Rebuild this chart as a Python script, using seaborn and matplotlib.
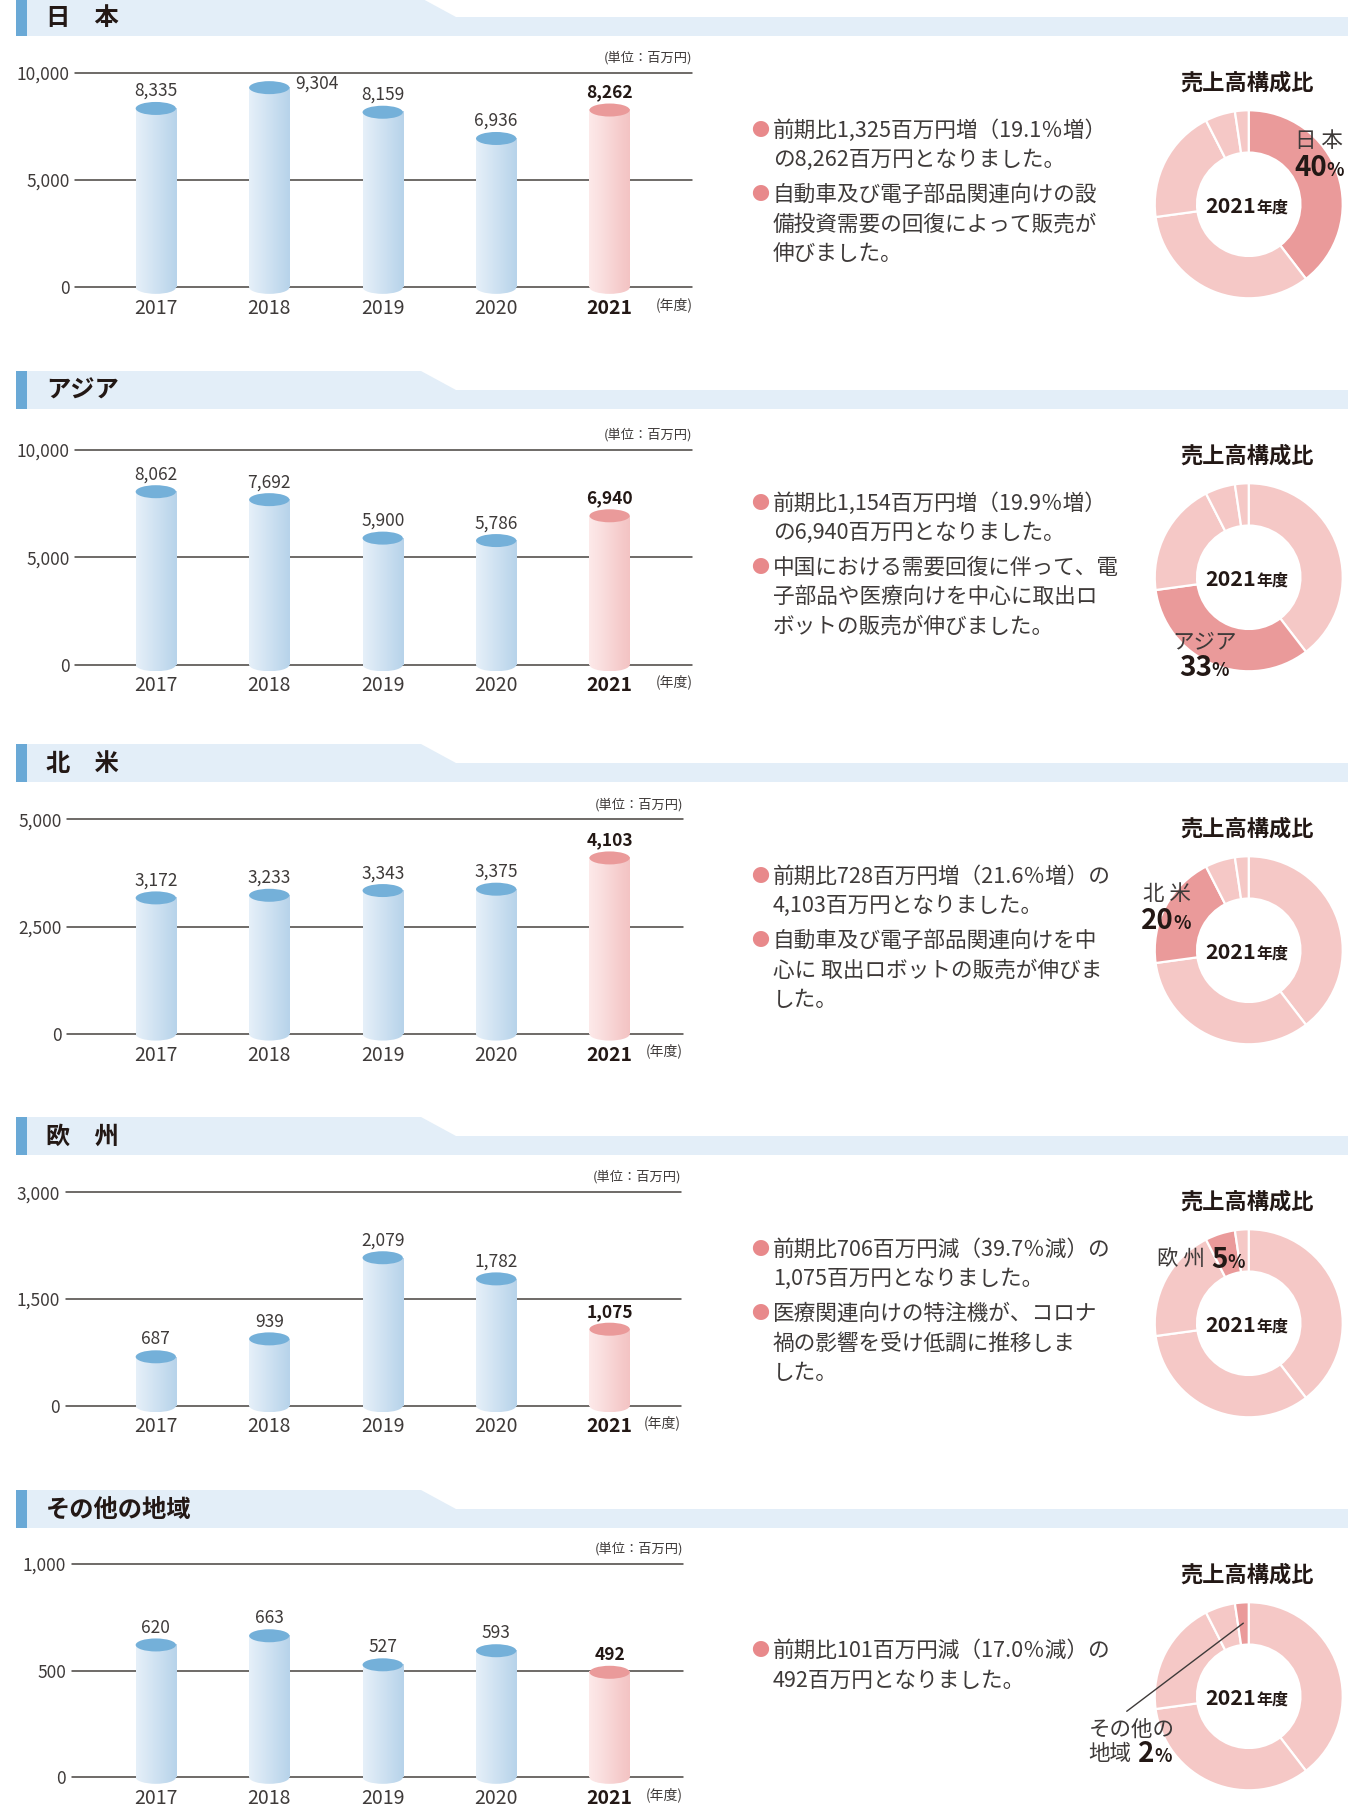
import numpy as np
import pandas as pd
import matplotlib
matplotlib.use("Agg")
import matplotlib.pyplot as plt
from matplotlib.colors import to_rgb
from matplotlib.patches import Ellipse, Polygon, Rectangle
import seaborn as sns

# ---- data ----
years = ["2017", "2018", "2019", "2020", "2021"]
region_titles = ["日　本", "アジア", "北　米", "欧　州", "その他の地域"]
donut_names = [["日 本"], ["アジア"], ["北 米"], ["欧 州"], ["その他の", "地域"]]

sales_japan = [8335, 9304, 8159, 6936, 8262]
sales_asia = [8062, 7692, 5900, 5786, 6940]
sales_north_america = [3172, 3233, 3343, 3375, 4103]
sales_europe = [687, 939, 2079, 1782, 1075]
sales_other = [620, 663, 527, 593, 492]
axis_max = [10000, 10000, 5000, 3000, 1000]

notes_japan = [["前期比1,325百万円増（19.1％増）", "の8,262百万円となりました。"],
               ["自動車及び電子部品関連向けの設", "備投資需要の回復によって販売が", "伸びました。"]]
notes_asia = [["前期比1,154百万円増（19.9％増）", "の6,940百万円となりました。"],
              ["中国における需要回復に伴って、電", "子部品や医療向けを中心に取出ロ", "ボットの販売が伸びました。"]]
notes_north_america = [["前期比728百万円増（21.6％増）の", "4,103百万円となりました。"],
                       ["自動車及び電子部品関連向けを中", "心に 取出ロボットの販売が伸びま", "した。"]]
notes_europe = [["前期比706百万円減（39.7％減）の", "1,075百万円となりました。"],
                ["医療関連向けの特注機が、コロナ", "禍の影響を受け低調に推移しま", "した。"]]
notes_other = [["前期比101百万円減（17.0％減）の", "492百万円となりました。"]]

series = [sales_japan, sales_asia, sales_north_america, sales_europe, sales_other]
notes = [notes_japan, notes_asia, notes_north_america, notes_europe, notes_other]
latest = [s[-1] for s in series]
share_pct = [round(100 * v / sum(latest)) for v in latest]

# ---- style ----
TEXT = "#3e3a39"
DARK = "#231815"
BAND = "#e3eef8"
ACCENT = "#6aa9d6"
BLUE_L, BLUE_R, BLUE_TOP = "#e6f0f9", "#b7d3ea", "#74b0d9"
PINK_L, PINK_R, PINK_TOP = "#fdeaea", "#f3c3c3", "#ea9a9a"
SLICE_ON, SLICE_OFF = "#ea9a9a", "#f5c8c6"
BULLET = "#e8898b"

sns.set_style("white")
plt.rcParams["font.family"] = ["Noto Sans CJK JP", "DejaVu Sans"]

W, H = 1348, 1809
S = W / 1168          # reference read at 1168 px wide
STEP = 373            # panel pitch in px

fig = plt.figure(figsize=(W / 100, H / 100), dpi=100)
bg = fig.add_axes([0, 0, 1, 1])
bg.set_xlim(0, W)
bg.set_ylim(H, 0)
bg.axis("off")


def box(x0, y0, x1, y1):
    return [x0 / W, 1 - y1 / H, (x1 - x0) / W, (y1 - y0) / H]


def put(x, y, s, **kw):
    kw.setdefault("color", TEXT)
    kw.setdefault("va", "center")
    return fig.text(x / W, 1 - y / H, s, **kw)


def gradient(c_left, c_right):
    t = np.linspace(0, 1, 64)[None, :, None]
    return (1 - t) * np.array(to_rgb(c_left)) + t * np.array(to_rgb(c_right))


chart_top = [63, 390, 710, 1033, 1355]
chart_zero = [249, 576, 896, 1218, 1540]
chart_left = [65, 65, 58, 57, 62]
chart_right = [600, 600, 592, 590, 592]
bar_c0, bar_sp = 135 * S, 98.3 * S

donut_label_pos = [  # (name x, name y, pct split x, pct y) relative to donut centre
    (46, -63, 78, -36),
    (-76, 65, -37, 91),
    (-106, -56, -75, -29),
    (-92, -63, -21, -63),
    (-160, 33, -94, 58),
]

for i, values in enumerate(series):
    top = -2 + STEP * i

    # header band
    bg.add_patch(Polygon([(27, top), (421, top), (456, top + 19), (W, top + 19),
                          (W, top + 38), (27, top + 38)], closed=True,
                         facecolor=BAND, edgecolor="none"))
    bg.add_patch(Rectangle((16, top), 11, 38, facecolor=ACCENT, edgecolor="none"))
    put(46, top + 20, region_titles[i], fontsize=17.5, fontweight="bold", color=DARK)

    # bar chart
    ct, cz = chart_top[i] * S, chart_zero[i] * S
    cl, cr = chart_left[i] * S, chart_right[i] * S
    ext = 8
    ymax = axis_max[i]
    ax = fig.add_axes(box(cl, ct, cr, cz + ext))
    ax.patch.set_alpha(0)
    df = pd.DataFrame({"year": years, "value": values})
    sns.barplot(data=df, x="year", y="value", hue="year",
                palette=[BLUE_R] * 4 + [PINK_R], legend=False,
                width=0.355, saturation=1, ax=ax)
    bars = sorted(ax.patches, key=lambda p: p.get_x())
    ylo = -ymax * ext / (cz - ct)
    eh = 13 / (cz - ct) * ymax
    for t in (0, ymax / 2, ymax):
        ax.axhline(t, color="#46423f", lw=1.1, zorder=1, clip_on=False)

    for k, p in enumerate(bars):
        x0, w, h = p.get_x(), p.get_width(), p.get_height()
        xc = x0 + w / 2
        hot = k == len(bars) - 1
        rgb = gradient(PINK_L, PINK_R) if hot else gradient(BLUE_L, BLUE_R)
        ax.imshow(rgb, extent=[x0, x0 + w, 0, h], aspect="auto", zorder=2,
                  interpolation="bilinear")
        foot = Ellipse((xc, 0), w, eh, transform=ax.transData)
        im = ax.imshow(rgb, extent=[x0, x0 + w, -eh / 2, eh / 2], aspect="auto",
                       zorder=1.9, interpolation="bilinear")
        im.set_clip_path(foot)
        ax.add_patch(Ellipse((xc, h), w, eh, facecolor=PINK_TOP if hot else BLUE_TOP,
                             edgecolor="none", zorder=3))
        p.set_visible(False)
        off = (34, 3) if h > 0.9 * ymax else (0, 12.5)
        ax.annotate(f"{int(h):,}", (xc, h), xytext=off, textcoords="offset points",
                    ha="center", va="center", fontsize=12.5,
                    color=DARK if hot else TEXT,
                    fontweight="bold" if hot else "normal")

    ax.set_ylim(ylo, ymax)
    ax.set_xlim((cl - bar_c0) / bar_sp, (cr - bar_c0) / bar_sp)
    ax.set_yticks([0, ymax / 2, ymax], labels=[f"{int(t):,}" for t in (0, ymax / 2, ymax)])
    ax.set_xticks(range(len(years)), labels=years)
    ax.tick_params(length=0, colors=TEXT)
    ax.tick_params(axis="y", labelsize=12.5, pad=4)
    ax.tick_params(axis="x", labelsize=14, pad=9.5)
    for lbl in ax.get_xticklabels():
        lbl.set_va("center")
    ax.get_xticklabels()[-1].set_fontweight("bold")
    ax.get_xticklabels()[-1].set_color(DARK)
    ax.set_xlabel("")
    ax.set_ylabel("")
    sns.despine(ax=ax, left=True, bottom=True)

    put(cr, ct - 15, "(単位：百万円)", fontsize=9.5, ha="right")
    put(cr, cz + 17, "(年度)", fontsize=10, ha="right")

    # commentary
    y = top + (133 if len(notes[i]) > 1 else 161)
    for para in notes[i]:
        put(760, y, "●", fontsize=13, ha="center", color=BULLET)
        for line in para:
            put(773, y, line, fontsize=15.6, ha="left")
            y += 29.4
        y += 5.2

    # donut
    R = 94
    cx, cy = 1082 * S, 177 * S + STEP * i
    Rb = R * 1.05
    dax = fig.add_axes(box(cx - Rb, cy - Rb, cx + Rb, cy + Rb))
    cols = [SLICE_ON if j == i else SLICE_OFF for j in range(len(latest))]
    wedges, _ = dax.pie(latest, startangle=90, counterclock=False, colors=cols,
                        radius=1, wedgeprops=dict(width=0.45, edgecolor="white", linewidth=1.6))
    dax.set_xlim(-1.05, 1.05)
    dax.set_ylim(-1.05, 1.05)
    dax.set_aspect("equal")
    dax.axis("off")

    put(cx - 2, cy - 121, "売上高構成比", fontsize=16, fontweight="bold", ha="center", color=DARK)
    put(cx + 7, cy + 2, "2021", fontsize=15.5, fontweight="bold", ha="right", color=DARK)
    put(cx + 8, cy + 3, "年度", fontsize=11.5, fontweight="bold", ha="left", color=DARK)

    nx, ny, px, py = donut_label_pos[i]
    names = donut_names[i]
    for r, nm in enumerate(names):
        put(cx + nx, cy + ny + 25 * r, nm, fontsize=15.5, ha="left")
    put(cx + px, cy + py, str(share_pct[i]), fontsize=20, fontweight="bold",
        ha="right", color=DARK)
    put(cx + px, cy + py + 2, "%", fontsize=13, fontweight="bold", ha="left", color=DARK)

    if i == 4:
        wd = wedges[i]
        mid = np.deg2rad((wd.theta1 + wd.theta2) / 2)
        dax.plot([0.78 * np.cos(mid), -122 / R], [0.78 * np.sin(mid), -15 / R],
                 color=TEXT, lw=1.0, clip_on=False, zorder=5)

fig.savefig("out.png", dpi=100)
